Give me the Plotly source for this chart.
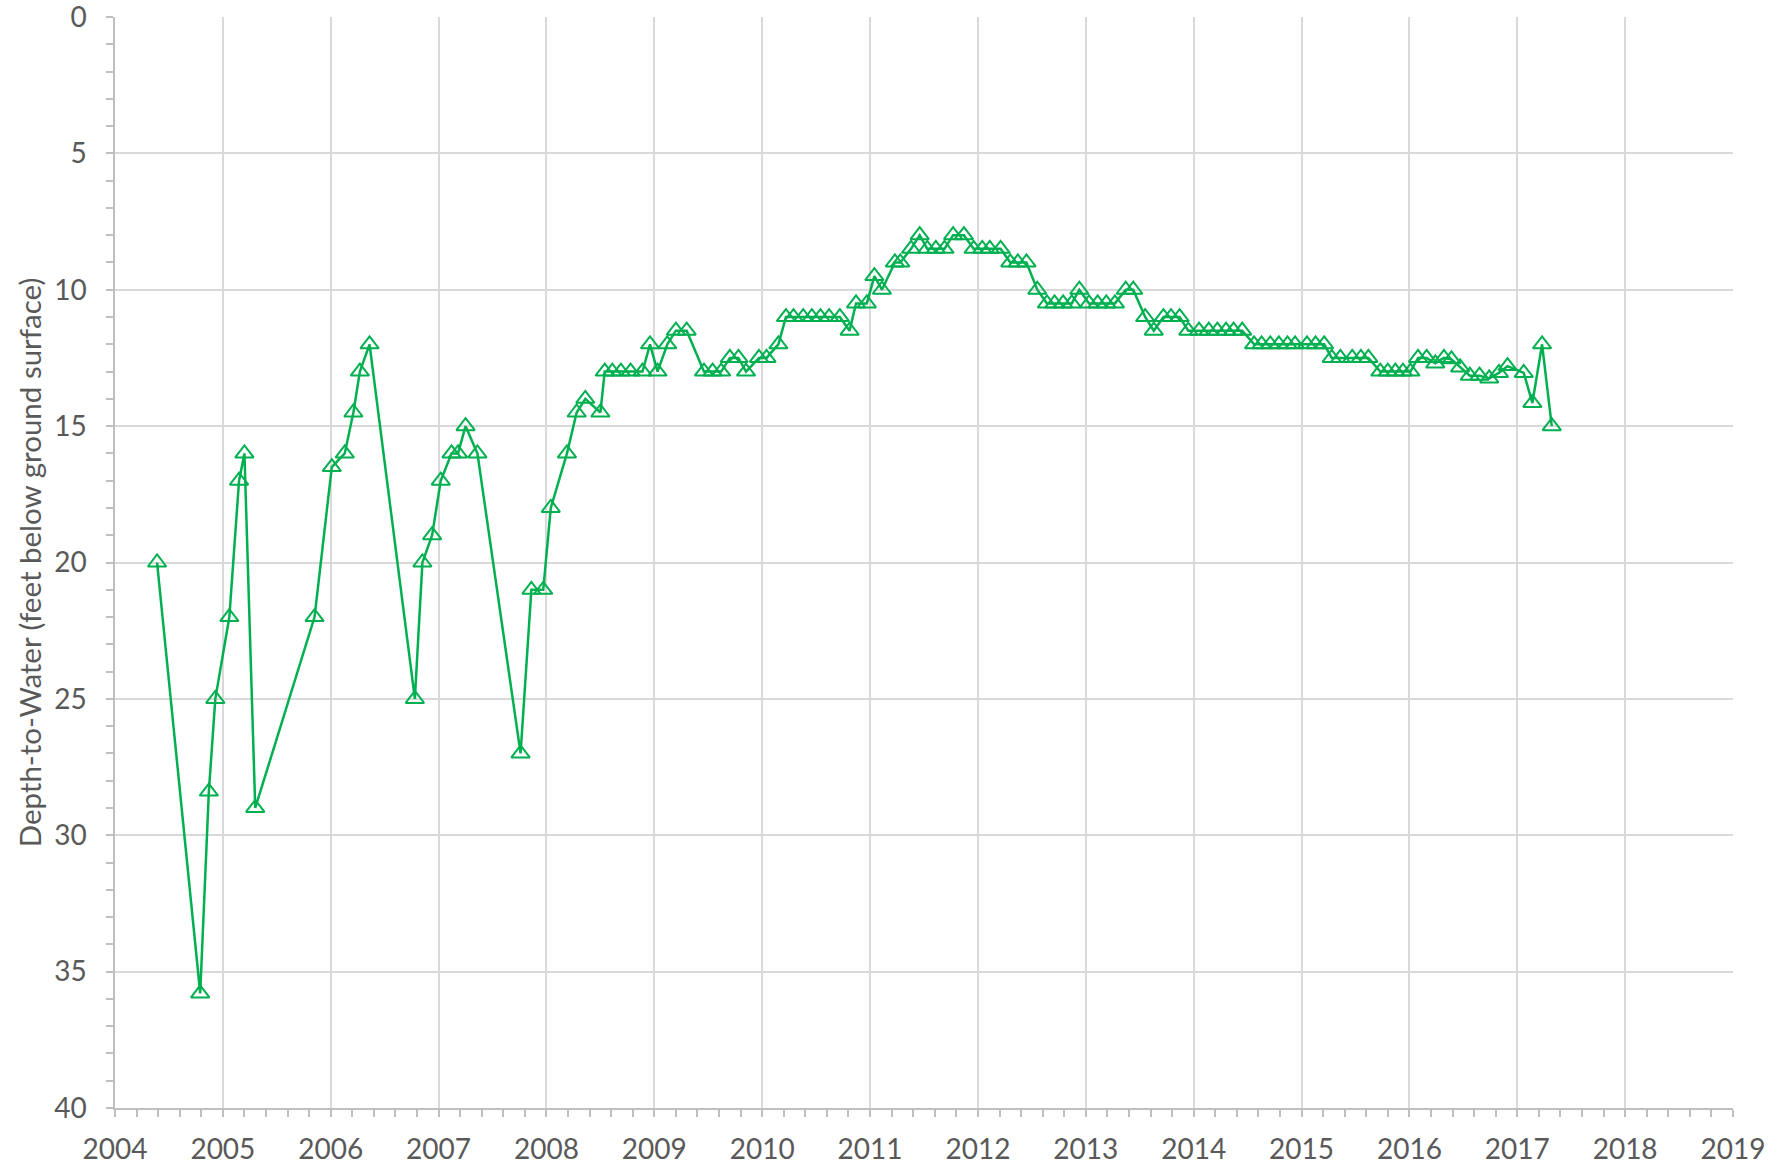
import plotly.graph_objects as go

# Decimal-year sample dates
years = [
    2004.39, 2004.79, 2004.87, 2004.93, 2005.06, 2005.15, 2005.20, 2005.30,
    2005.85, 2006.01, 2006.13, 2006.21, 2006.27, 2006.36,
    2006.78, 2006.85, 2006.94, 2007.02, 2007.12, 2007.18, 2007.25, 2007.36,
    2007.76, 2007.86, 2007.97, 2008.04, 2008.19, 2008.28, 2008.36, 2008.50,
    2008.54, 2008.61, 2008.69, 2008.78, 2008.89,
    2008.96, 2009.03, 2009.12, 2009.20, 2009.30,
    2009.46, 2009.54, 2009.62, 2009.70, 2009.78, 2009.85, 2009.97, 2010.04,
    2010.15, 2010.22, 2010.29, 2010.38, 2010.46, 2010.54, 2010.62, 2010.72,
    2010.81, 2010.87, 2010.97, 2011.04, 2011.11, 2011.23, 2011.28,
    2011.38, 2011.46, 2011.53, 2011.61, 2011.69, 2011.77, 2011.87,
    2011.96, 2012.04, 2012.11, 2012.21, 2012.30, 2012.37, 2012.45,
    2012.55, 2012.64, 2012.71, 2012.79, 2012.87, 2012.94,
    2013.03, 2013.11, 2013.19, 2013.27, 2013.37, 2013.44, 2013.55,
    2013.63, 2013.72, 2013.79, 2013.87, 2013.95,
    2014.05, 2014.14, 2014.22, 2014.30, 2014.37, 2014.45,
    2014.56, 2014.63, 2014.71, 2014.79, 2014.87, 2014.94, 2015.05, 2015.13, 2015.21,
    2015.28, 2015.36, 2015.47, 2015.55, 2015.62,
    2015.73, 2015.80, 2015.87, 2015.94, 2016.01,
    2016.08, 2016.16, 2016.24, 2016.32, 2016.39, 2016.47, 2016.56, 2016.65,
    2016.74, 2016.83, 2016.91,
    2017.06, 2017.14, 2017.23, 2017.32,
]

# Depth to water (feet below ground surface)
depth_ft = [
    20.0, 35.8, 28.4, 25.0, 22.0, 17.0, 16.0, 29.0,
    22.0, 16.5, 16.0, 14.5, 13.0, 12.0,
    25.0, 20.0, 19.0, 17.0, 16.0, 16.0, 15.0, 16.0,
    27.0, 21.0, 21.0, 18.0, 16.0, 14.5, 14.0, 14.5,
    13.0, 13.0, 13.0, 13.0, 13.0,
    12.0, 13.0, 12.0, 11.5, 11.5,
    13.0, 13.0, 13.0, 12.5, 12.5, 13.0, 12.5, 12.5,
    12.0, 11.0, 11.0, 11.0, 11.0, 11.0, 11.0, 11.0,
    11.5, 10.5, 10.5, 9.5, 10.0, 9.0, 9.0,
    8.5, 8.0, 8.5, 8.5, 8.5, 8.0, 8.0,
    8.5, 8.5, 8.5, 8.5, 9.0, 9.0, 9.0,
    10.0, 10.5, 10.5, 10.5, 10.5, 10.0,
    10.5, 10.5, 10.5, 10.5, 10.0, 10.0, 11.0,
    11.5, 11.0, 11.0, 11.0, 11.5,
    11.5, 11.5, 11.5, 11.5, 11.5, 11.5,
    12.0, 12.0, 12.0, 12.0, 12.0, 12.0, 12.0, 12.0, 12.0,
    12.5, 12.5, 12.5, 12.5, 12.5,
    13.0, 13.0, 13.0, 13.0, 13.0,
    12.5, 12.5, 12.7, 12.5, 12.55, 12.85, 13.15, 13.15,
    13.25, 13.05, 12.8,
    13.05, 14.15, 12.0, 15.0,
]
assert len(years) == len(depth_ft)

x_tick_vals = [2004, 2005, 2006, 2007, 2008, 2009, 2010, 2011, 2012,
               2013, 2014, 2015, 2016, 2017, 2018, 2019]
x_tick_text = ["2004", "2005", "2006", "2007", "2008", "2009", "2010", "2011",
               "2012", "2013", "2014", "2015", "2016", "2017", "2018", "2019"]
y_tick_vals = [0, 5, 10, 15, 20, 25, 30, 35, 40]
y_title = "Depth-to-Water (feet below ground surface)"

GREEN = "#00B050"
GRID = "#D9D9D9"
AXIS = "#BFBFBF"
TEXT = "#595959"
FONT = "Lato, Carlito, Calibri, 'Open Sans', sans-serif"

fig = go.Figure()
fig.add_trace(go.Scatter(
    x=years, y=depth_ft, mode="lines+markers",
    line=dict(color=GREEN, width=2.5),
    marker=dict(symbol="triangle-up-open", size=16, color=GREEN,
                line=dict(color=GREEN, width=2)),
    showlegend=False,
))

fig.update_layout(
    template="none",
    width=1786, height=1168,
    margin=dict(l=115, r=53, t=17, b=60, autoexpand=False),
    paper_bgcolor="white", plot_bgcolor="white",
    font=dict(family=FONT, size=28, color=TEXT),
)
fig.update_xaxes(
    automargin=False,
    range=[2004, 2019], tickmode="array", tickvals=x_tick_vals, ticktext=x_tick_text,
    showgrid=True, gridcolor=GRID, gridwidth=1.5,
    showline=True, linecolor=AXIS, linewidth=1.5,
    ticks="outside", ticklen=7, tickcolor=AXIS, tickwidth=1.5,
    ticklabelstandoff=9, ticklabeloverflow="allow",
    minor=dict(dtick=0.2, tick0=2004, ticks="outside", ticklen=7,
               tickcolor=AXIS, tickwidth=1.5, showgrid=False),
    zeroline=False,
    tickfont=dict(family=FONT, size=28, color=TEXT),
)
fig.update_yaxes(
    automargin=False,
    range=[40, 0], tickmode="array", tickvals=y_tick_vals,
    showgrid=True, gridcolor=GRID, gridwidth=1.5,
    showline=True, linecolor=AXIS, linewidth=1.5,
    ticks="outside", ticklen=7, tickcolor=AXIS, tickwidth=1.5,
    ticklabelstandoff=14, ticklabeloverflow="allow",
    minor=dict(dtick=1, tick0=0, ticks="outside", ticklen=7,
               tickcolor=AXIS, tickwidth=1.5, showgrid=False),
    zeroline=False,
    tickfont=dict(family=FONT, size=28, color=TEXT),
    title=dict(text=y_title, font=dict(family=FONT, size=29.5, color=TEXT), standoff=4),
)

fig.write_html(
    "out.html",
    config={"displayModeBar": False},
    post_script="document.body.style.margin='0';document.body.style.overflow='hidden';",
)
